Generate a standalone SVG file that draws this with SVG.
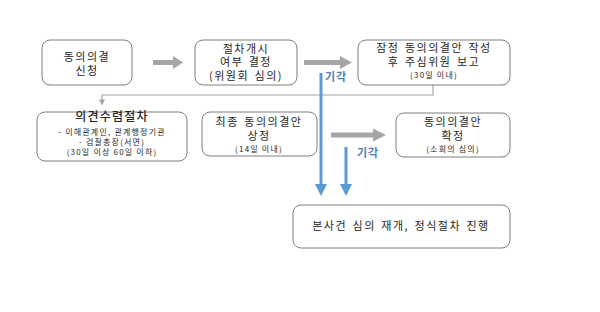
<svg xmlns="http://www.w3.org/2000/svg" width="600" height="312" viewBox="0 0 600 312">
<style>
.box{fill:#fff;stroke:#7f7f7f;stroke-width:1}
text{font-family:"Noto Sans CJK KR","Noto Sans",sans-serif;fill:#262626;text-anchor:middle}
.t{font-size:11px;letter-spacing:1.5px;word-spacing:1.5px}
.s{font-size:8px;letter-spacing:1.2px}
.h{font-size:12px;letter-spacing:1.2px;font-weight:500}
.rej{font-size:11px;fill:#4a7ebb;font-weight:bold;text-anchor:start;letter-spacing:1px}
.blue{stroke:#5b9bd5;stroke-width:3;fill:none}
.thin{stroke:#a6a6a6;stroke-width:1.2;fill:none}
.gar{fill:#a6a6a6}
</style>
<defs>
<marker id="bh" markerWidth="4" markerHeight="4" refX="2" refY="2" orient="auto" markerUnits="strokeWidth"><path d="M0,0 L4,2 L0,4 Z" fill="#5b9bd5"/></marker>
<marker id="th" markerWidth="6" markerHeight="6" refX="3" refY="3" orient="auto" markerUnits="strokeWidth"><path d="M0,0.5 L5,3 L0,5.5 Z" fill="#a6a6a6"/></marker>
</defs>
<rect width="600" height="312" fill="#fff"/>
<g id="connectors">
<path class="gar" d="M153,60 L173,60 L173,56 L183,62.5 L173,69 L173,65 L153,65 Z"/>
<path class="gar" d="M304,60 L340,60 L340,56 L352,62.5 L340,69 L340,65 L304,65 Z"/>
<path class="gar" d="M331,132.5 L373,132.5 L373,128.5 L386,135 L373,141.5 L373,137.5 L331,137.5 Z"/>
<path class="thin" d="M433,85 L433,95 L102,95 L102,103" marker-end="url(#th)"/>
<path class="blue" d="M321,73 L321,190" marker-end="url(#bh)"/>
<path class="blue" d="M346,147 L346,190" marker-end="url(#bh)"/>
<text class="rej" x="325" y="81">기각</text>
<text class="rej" x="357" y="157">기각</text>
</g>
<g id="n1"><rect class="box" x="42" y="40" width="90" height="45" rx="8"/>
<text class="t" x="87" y="61">동의의결<tspan x="87" dy="14">신청</tspan></text></g>
<g id="n2"><rect class="box" x="195" y="40" width="102" height="45" rx="8"/>
<text class="t" x="246" y="52.5">절차개시<tspan x="246" dy="13.5">여부 결정</tspan><tspan x="246" dy="13.5">(위원회 심의)</tspan></text></g>
<g id="n3"><rect class="box" x="358" y="40" width="152" height="45" rx="8"/>
<text x="434" y="52"><tspan class="t">잠정 동의의결안 작성</tspan><tspan class="t" x="434" dy="13.5">후 주심위원 보고</tspan><tspan class="s" x="434" dy="12">(30일 이내)</tspan></text></g>
<g id="n4"><rect class="box" x="37" y="112" width="150" height="49" rx="8"/>
<text x="112" y="121"><tspan class="h">의견수렴절차</tspan><tspan class="s" x="112" dy="14">- 이해관계인, 관계행정기관</tspan><tspan class="s" x="112" dy="10">- 검찰총장(서면)</tspan><tspan class="s" x="112" dy="10">(30일 이상 60일 이하)</tspan></text></g>
<g id="n5"><rect class="box" x="202" y="112" width="115" height="44" rx="8"/>
<text x="259" y="126"><tspan class="t">최종 동의의결안</tspan><tspan class="t" x="259" dy="13.5">상정</tspan><tspan class="s" x="259" dy="12">(14일 이내)</tspan></text></g>
<g id="n6"><rect class="box" x="396" y="113" width="114" height="44" rx="8"/>
<text x="453" y="126"><tspan class="t">동의의결안</tspan><tspan class="t" x="453" dy="13.5">확정</tspan><tspan class="s" x="453" dy="12">(소회의 심의)</tspan></text></g>
<g id="n7"><rect class="box" x="293" y="205" width="217" height="43" rx="8"/>
<text class="t" x="401" y="230">본사건 심의 재개, 정식절차 진행</text></g>
</svg>
